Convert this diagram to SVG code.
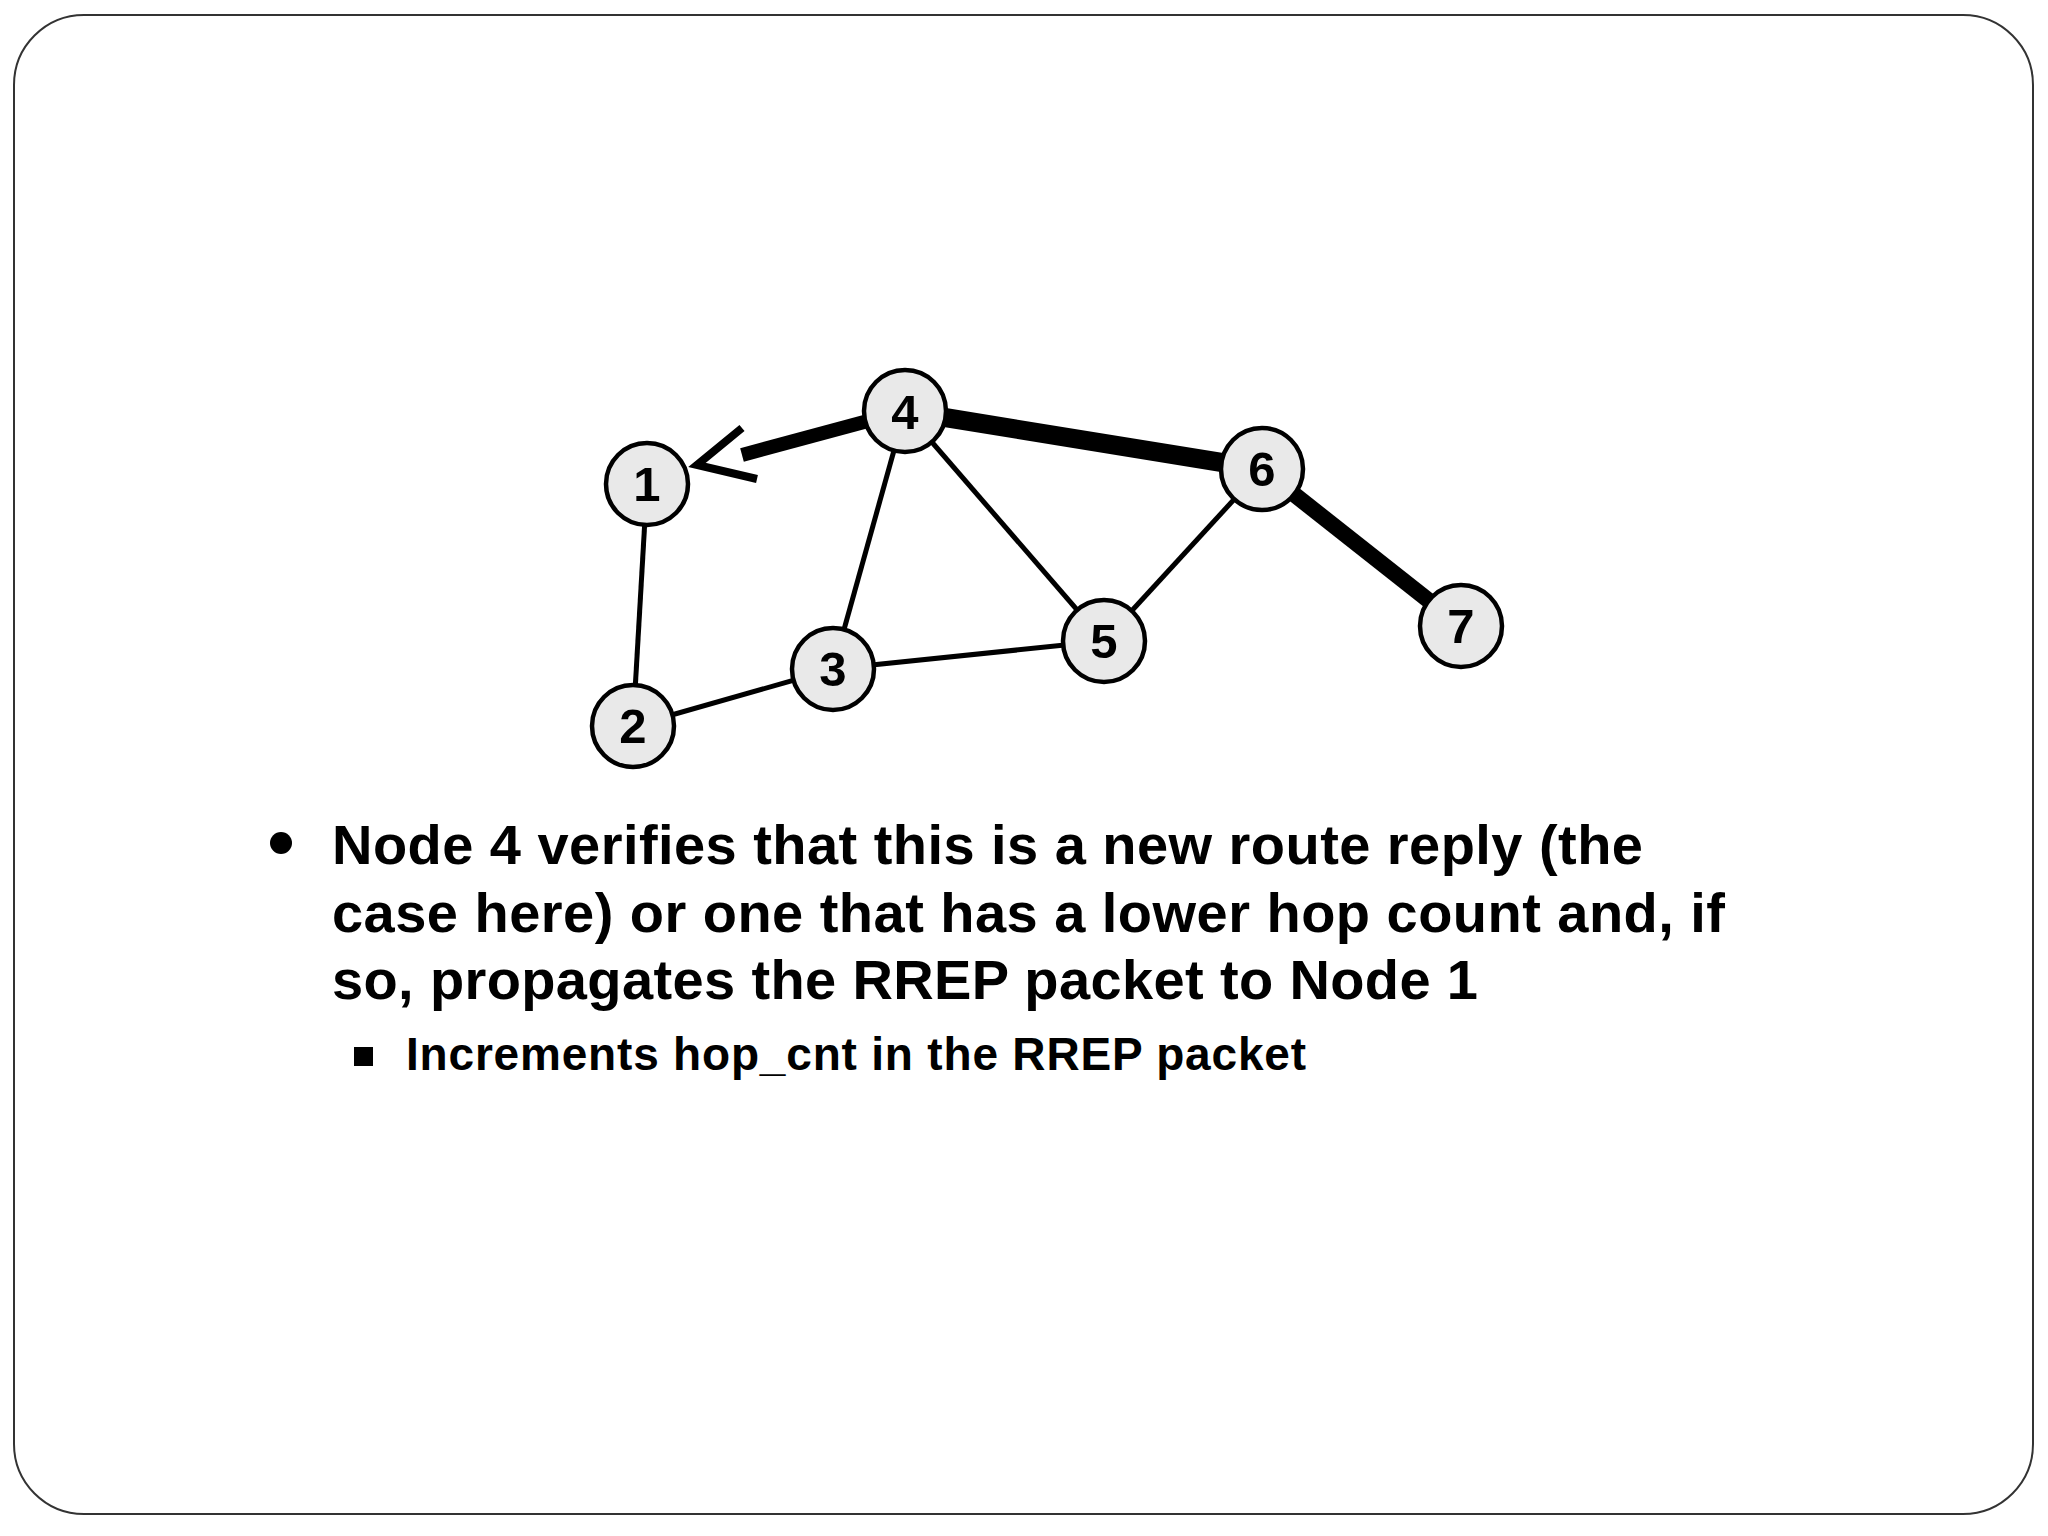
<svg xmlns="http://www.w3.org/2000/svg" width="2048" height="1536" viewBox="0 0 2048 1536">
<style>
.node circle{fill:#e9e9e9;stroke:#000;stroke-width:4.5}
.node text{font-family:"Liberation Sans",Arial,sans-serif;font-weight:bold;font-size:49px;text-anchor:middle;fill:#000}
.edge{stroke:#000;stroke-width:5;fill:none}
.thick{stroke:#000;fill:none}
.body{font-family:"Liberation Sans",Arial,sans-serif;font-weight:bold;fill:#000}
</style>
<rect x="0" y="0" width="2048" height="1536" fill="#fff"/>
<rect x="14" y="15" width="2019" height="1499" rx="70" ry="70" fill="#fff" stroke="#333" stroke-width="2"/>
<g id="connectors">
<line class="edge" x1="647" y1="484" x2="633" y2="726"/>
<line class="edge" x1="633" y1="726" x2="833" y2="669"/>
<line class="edge" x1="833" y1="669" x2="905" y2="411"/>
<line class="edge" x1="833" y1="669" x2="1104" y2="641"/>
<line class="edge" x1="905" y1="411" x2="1104" y2="641"/>
<line class="edge" x1="1104" y1="641" x2="1262" y2="469"/>
<line class="thick" stroke-width="19" x1="905" y1="411" x2="1262" y2="469"/>
<line class="thick" stroke-width="16" x1="1262" y1="469" x2="1461" y2="626"/>
<line class="thick" stroke-width="14" x1="905" y1="411" x2="742" y2="455"/>
<polyline fill="none" stroke="#000" stroke-width="8" stroke-linejoin="miter" points="742,428 697,465 757,479"/>
</g>
<g id="node1" class="node"><circle cx="647" cy="484" r="41"/><text x="647" y="501">1</text></g>
<g id="node2" class="node"><circle cx="633" cy="726" r="41"/><text x="633" y="743">2</text></g>
<g id="node3" class="node"><circle cx="833" cy="669" r="41"/><text x="833" y="686">3</text></g>
<g id="node4" class="node"><circle cx="905" cy="411" r="41"/><text x="905" y="429">4</text></g>
<g id="node5" class="node"><circle cx="1104" cy="641" r="41"/><text x="1104" y="658">5</text></g>
<g id="node6" class="node"><circle cx="1262" cy="469" r="41"/><text x="1262" y="486">6</text></g>
<g id="node7" class="node"><circle cx="1461" cy="626" r="41"/><text x="1461" y="643">7</text></g>
<g id="text">
<circle cx="281" cy="843" r="11" fill="#000"/>
<text class="body" font-size="56" x="332" y="864" textLength="1311">Node 4 verifies that this is a new route reply (the</text>
<text class="body" font-size="56" x="332" y="931.5" textLength="1393">case here) or one that has a lower hop count and, if</text>
<text class="body" font-size="56" x="332" y="999" textLength="1146">so, propagates the RREP packet to Node 1</text>
<rect x="354" y="1047" width="19" height="19" fill="#000"/>
<text class="body" font-size="46" x="406" y="1070" textLength="900">Increments hop_cnt in the RREP packet</text>
</g>
</svg>
